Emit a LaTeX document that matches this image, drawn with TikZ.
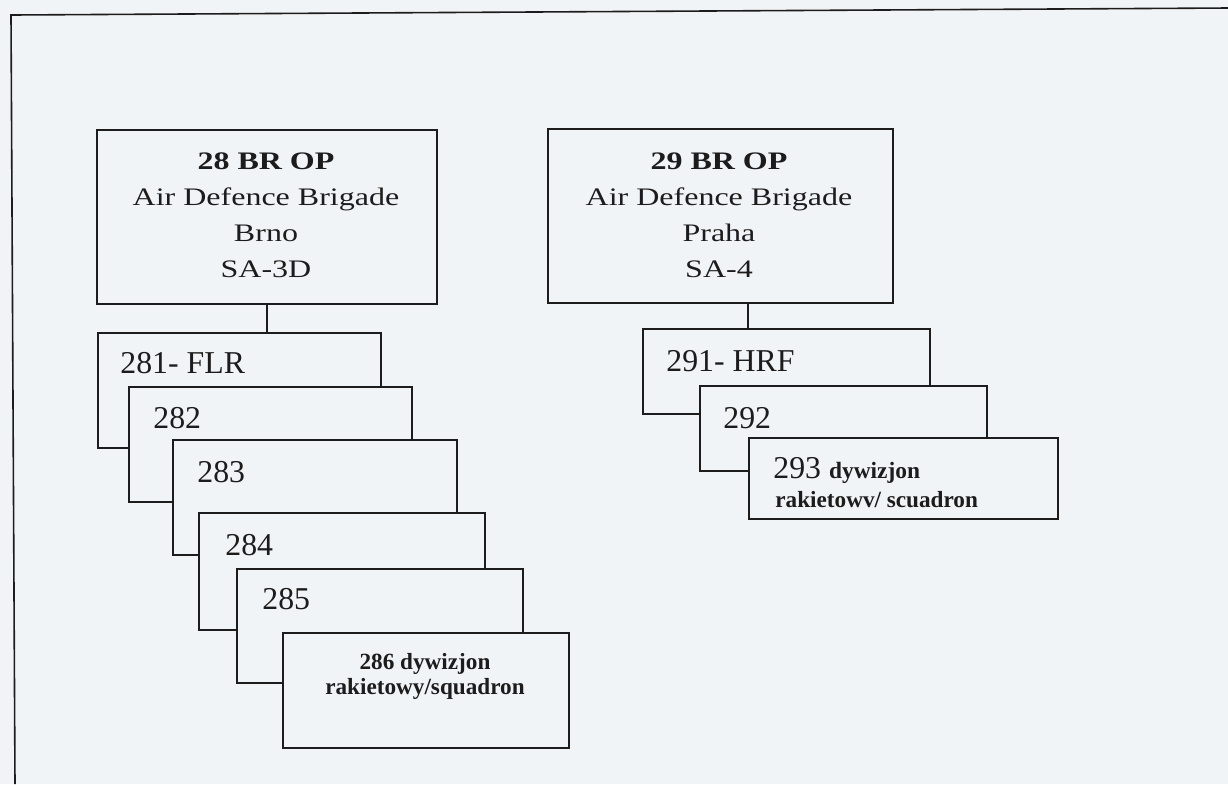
\documentclass[tikz,border=0pt]{standalone}
\usepackage{fontspec}
\setmainfont{Liberation Serif}
\newfontfamily\brigfont[FakeStretch=1.27]{Liberation Serif}
\usepackage{xcolor}
\usetikzlibrary{calc}
\definecolor{paper}{RGB}{241,244,246}
\definecolor{ink}{RGB}{28,28,28}
\tikzset{
  pageframe/.style={draw=ink, line width=0.8pt},
  brig/.style  ={draw=ink, rectangle, line width=1pt, fill=paper, anchor=north west, minimum height=87pt, inner sep=0pt},
  sq/.style    ={draw=ink, rectangle, line width=1pt, fill=paper, anchor=north west, minimum width=143pt, minimum height=57.5pt, inner sep=0pt},
  sqr/.style   ={sq, minimum width=143.5pt, minimum height=42.5pt},
  btxt/.style  ={anchor=base, text=ink, inner sep=0pt, font=\brigfont\fontsize{12.6}{15}\selectfont},
  btxtb/.style ={btxt, font=\brigfont\bfseries\fontsize{12.6}{15}\selectfont},
  stxt/.style  ={anchor=base west, text=ink, inner sep=0pt, font=\fontsize{15.9}{19}\selectfont},
  smtxt/.style ={anchor=base, text=ink, inner sep=0pt, font=\bfseries\fontsize{11.6}{14}\selectfont},
  link/.style  ={draw=ink, line width=0.8pt},
}
\begin{document}
\begin{tikzpicture}[x=0.5pt, y=-0.5pt]
  \fill[paper] (0,0) rectangle (1228,784);
  \useasboundingbox (0,0) rectangle (1228,784);

  % page frame
  \coordinate (fbl) at (15,784);
  \coordinate (ftl) at (11,15);
  \coordinate (ftr) at (1228,8);
  \draw[pageframe] (fbl) -- (ftl) -- (ftr);

  % 28 BR OP
  \node[brig, minimum width=170pt] (b28) at (96,129) {};
  \node[btxtb] (b28a) at (266,169) {28 BR OP};
  \node[btxt]  (b28b) at (266,205) {Air Defence Brigade};
  \node[btxt]  (b28c) at (266,241) {Brno};
  \node[btxt]  (b28d) at (266,277) {SA-3D};

  \node[sq, minimum width=141.5pt] (s281) at (97,332) {};
  \draw[link] (b28.south) -- (b28.south |- s281.north);
  \node[stxt] (t281) at (120,373) {281- FLR};
  \node[sq, minimum width=141.5pt] (s282) at (128,386) {};
  \node[stxt] (t282) at (153,428) {282};
  \node[sq, minimum width=142pt] (s283) at (172,439) {};
  \node[stxt] (t283) at (197,482) {283};
  \node[sq, minimum height=58.5pt] (s284) at (198,512) {};
  \node[stxt] (t284) at (225,555) {284};
  \node[sq, minimum height=57pt] (s285) at (236,568) {};
  \node[stxt] (t285) at (262,609) {285};
  \node[sq] (s286) at (282,632) {};
  \node[smtxt] (t286a) at (425,669) {286 dywizjon};
  \node[smtxt] (t286b) at (425,694) {rakietowy/squadron};

  % 29 BR OP
  \node[brig, minimum width=172.5pt] (b29) at (547,128) {};
  \node[btxtb] (b29a) at (719,169) {29 BR OP};
  \node[btxt]  (b29b) at (719,205) {Air Defence Brigade};
  \node[btxt]  (b29c) at (719,241) {Praha};
  \node[btxt]  (b29d) at (719,277) {SA-4};

  \coordinate (j29) at (748,302);
  \node[sqr] (s291) at (642,328) {};
  \draw[link] (j29) -- (j29 |- s291.north);
  \node[stxt] (t291) at (666,371) {291- HRF};
  \node[sqr] (s292) at (699,385) {};
  \node[stxt] (t292) at (723,428) {292};
  \node[sqr, minimum width=154.5pt, minimum height=40.5pt] (s293) at (748,437) {};
  \node[stxt] (t293a) at (773,478) {293 {\bfseries\fontsize{11.7}{14}\selectfont dywizjon}};
  \node[smtxt, anchor=base west] (t293b) at (775,507) {rakietowv/ scuadron};
\end{tikzpicture}
\end{document}
